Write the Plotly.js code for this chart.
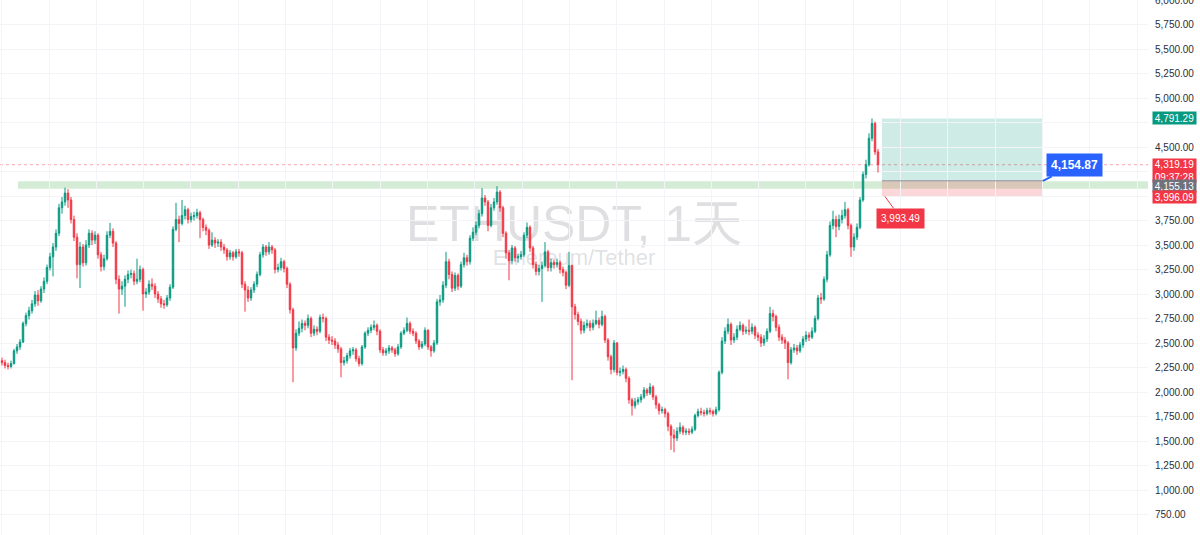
<!DOCTYPE html>
<html>
<head>
<meta charset="utf-8">
<script src="https://cdn.plot.ly/plotly-3.0.1.min.js"></script>
<style>
  html, body { margin: 0; padding: 0; background: #ffffff; }
  #chart { width: 1200px; height: 535px; }
</style>
</head>
<body>
<div id="chart"></div>
<script>
// ETHUSDT candles (2-day bars)
const open = [
  2320,2300,2270,2260,2290,2420,2460,2510,2700,2780,
  2830,2900,2990,2930,3050,3130,3270,3380,3480,3620,
  3880,3940,4030,3960,3760,3580,3300,3480,3320,3500,
  3620,3550,3600,3400,3280,3360,3600,3640,3520,3150,
  3050,3080,3150,3200,3210,3130,3150,3250,3000,3020,
  3100,3080,3000,2950,2900,2890,2960,3070,3660,3760,
  3720,3800,3860,3760,3790,3800,3830,3760,3680,3650,
  3500,3550,3520,3530,3480,3450,3380,3420,3380,3430,
  3420,3100,3040,2960,3040,3100,3200,3400,3480,3430,
  3480,3450,3250,3270,3330,3260,3100,2840,2450,2600,
  2650,2700,2680,2750,2600,2640,2620,2760,2750,2560,
  2530,2520,2480,2440,2300,2320,2370,2420,2430,2340,
  2290,2460,2600,2630,2660,2680,2620,2430,2400,2420,
  2450,2430,2390,2460,2600,2630,2700,2620,2600,2520,
  2460,2490,2630,2460,2420,2500,2920,2940,3090,3330,
  3200,3060,3190,3080,3300,3370,3330,3570,3630,3700,
  3820,3980,3940,3700,3880,3940,4040,3880,3620,3420,
  3340,3470,3370,3380,3400,3600,3680,3470,3300,3230,
  3260,3290,3430,3270,3320,3300,3320,3250,3220,3090,
  3290,2870,2790,2720,2630,2680,2700,2660,2700,2730,
  2690,2770,2530,2360,2230,2500,2200,2210,2230,2140,
  1920,1860,1900,1920,1950,2020,1990,2050,1950,1870,
  1810,1820,1780,1650,1560,1530,1600,1640,1590,1600,
  1590,1620,1760,1800,1790,1780,1810,1800,1780,1820,
  2200,2520,2620,2690,2530,2560,2640,2680,2620,2630,
  2620,2660,2580,2560,2500,2540,2620,2800,2770,2660,
  2560,2530,2500,2300,2430,2450,2420,2480,2540,2580,
  2560,2620,2750,2960,2950,3150,3400,3700,3760,3690,
  3760,3800,3860,3700,3480,3580,3680,3960,4220,4320,
  4590,4740,4450
];
const high = [
  2350,2330,2300,2320,2440,2490,2540,2720,2810,2870,
  2940,3030,3040,3080,3170,3300,3420,3520,3660,3920,
  3990,4085,4070,3990,3800,3620,3530,3510,3550,3660,
  3650,3640,3620,3430,3400,3640,3725,3670,3540,3190,
  3130,3190,3240,3250,3240,3360,3290,3270,3060,3140,
  3160,3110,3030,2980,2940,2990,3100,3690,3930,3800,
  3960,3900,3880,3830,3840,3870,3850,3780,3710,3670,
  3630,3580,3560,3560,3510,3470,3450,3440,3460,3460,
  3440,3130,3080,3070,3130,3230,3430,3510,3500,3530,
  3500,3470,3310,3370,3350,3280,3120,2860,2640,2720,
  2740,2730,2790,2770,2680,2670,2790,2800,2770,2590,
  2570,2550,2510,2460,2360,2400,2450,2460,2450,2370,
  2480,2620,2660,2690,2730,2700,2640,2460,2450,2480,
  2470,2450,2490,2620,2660,2760,2720,2650,2620,2540,
  2520,2660,2640,2480,2530,2950,2990,3130,3430,3360,
  3230,3220,3210,3330,3420,3400,3600,3680,3740,3860,
  4080,4010,3960,3920,3980,4100,4060,3900,3640,3450,
  3500,3490,3410,3440,3630,3730,3700,3490,3330,3300,
  3330,3530,3450,3360,3350,3360,3340,3280,3240,3430,
  3300,2900,2820,2750,2720,2740,2730,2740,2830,2760,
  2830,2790,2550,2380,2530,2510,2250,2270,2250,2160,
  1940,1940,1950,1980,2050,2040,2090,2070,1970,1890,
  1850,1840,1800,1670,1620,1640,1690,1660,1630,1630,
  1650,1780,1830,1840,1820,1840,1840,1820,1850,2220,
  2560,2660,2750,2710,2600,2680,2720,2700,2670,2740,
  2700,2680,2610,2590,2580,2650,2870,2840,2790,2690,
  2590,2560,2520,2460,2490,2480,2510,2570,2620,2610,
  2660,2780,2990,3010,3180,3440,3740,3850,3800,3810,
  3860,3940,3880,3720,3620,3720,3990,4250,4370,4640,
  4791.29,4760,4480
];
const low = [
  2270,2240,2230,2240,2280,2390,2430,2500,2670,2740,
  2800,2870,2880,2910,3010,3100,3240,3180,3440,3590,
  3820,3900,3880,3720,3540,3160,3060,3280,3290,3470,
  3500,3510,3360,3230,3240,3340,3570,3480,3100,2800,
  2990,2870,3110,3160,3090,3100,3120,2830,2960,2990,
  3040,2960,2910,2860,2850,2870,2930,3050,3640,3530,
  3700,3760,3720,3730,3750,3770,3570,3640,3600,3460,
  3480,3470,3480,3440,3410,3340,3350,3340,3360,3380,
  3060,2820,2920,2930,3010,3070,3180,3370,3390,3400,
  3410,3210,3220,3240,3220,3060,2800,2100,2420,2570,
  2610,2630,2650,2560,2570,2580,2600,2710,2520,2490,
  2480,2440,2400,2150,2270,2290,2340,2380,2310,2260,
  2270,2440,2570,2600,2630,2580,2400,2370,2370,2390,
  2400,2360,2370,2440,2580,2610,2590,2570,2490,2430,
  2440,2470,2430,2360,2400,2480,2880,2910,3060,3150,
  3020,3030,3040,3060,3270,3290,3300,3540,3600,3670,
  3790,3900,3640,3680,3850,3910,3840,3580,3360,3140,
  3310,3330,3320,3350,3380,3570,3430,3260,3190,3190,
  2920,3270,3230,3230,3260,3270,3210,3180,3050,3070,
  2120,2740,2680,2590,2600,2650,2620,2630,2680,2650,
  2670,2500,2320,2180,2200,2170,2160,2180,2100,1880,
  1760,1830,1870,1890,1930,1960,1970,1920,1830,1770,
  1780,1740,1600,1410,1385,1500,1570,1560,1560,1560,
  1570,1600,1740,1760,1750,1760,1770,1750,1760,1800,
  2180,2490,2590,2480,2500,2530,2620,2580,2590,2580,
  2590,2540,2520,2460,2470,2510,2600,2720,2620,2520,
  2490,2440,2130,2280,2400,2380,2400,2450,2510,2520,
  2540,2600,2730,2900,2930,3120,3380,3660,3580,3650,
  3720,3770,3660,3380,3440,3550,3660,3940,4180,4300,
  4560,4420,4240
];
const close = [
  2300,2270,2260,2290,2420,2460,2510,2700,2780,2830,
  2900,2990,2930,3050,3130,3270,3380,3480,3620,3880,
  3940,4030,3960,3760,3580,3300,3480,3320,3500,3620,
  3550,3600,3400,3280,3360,3600,3640,3520,3150,3050,
  3080,3150,3200,3210,3130,3150,3250,3000,3020,3100,
  3080,3000,2950,2900,2890,2960,3070,3660,3760,3720,
  3800,3860,3760,3790,3800,3830,3760,3680,3650,3500,
  3550,3520,3530,3480,3450,3380,3420,3380,3430,3420,
  3100,3040,2960,3040,3100,3200,3400,3480,3430,3480,
  3450,3250,3270,3330,3260,3100,2840,2450,2600,2650,
  2700,2680,2750,2600,2640,2620,2760,2750,2560,2530,
  2520,2480,2440,2300,2320,2370,2420,2430,2340,2290,
  2460,2600,2630,2660,2680,2620,2430,2400,2420,2450,
  2430,2390,2460,2600,2630,2700,2620,2600,2520,2460,
  2490,2630,2460,2420,2500,2920,2940,3090,3330,3200,
  3060,3190,3080,3300,3370,3330,3570,3630,3700,3820,
  3980,3940,3700,3880,3940,4040,3880,3620,3420,3340,
  3470,3370,3380,3400,3600,3680,3470,3300,3230,3260,
  3290,3430,3270,3320,3300,3320,3250,3220,3090,3290,
  2870,2790,2720,2630,2680,2700,2660,2700,2730,2690,
  2770,2530,2360,2230,2500,2200,2210,2230,2140,1920,
  1860,1900,1920,1950,2020,1990,2050,1950,1870,1810,
  1820,1780,1650,1560,1530,1600,1640,1590,1600,1590,
  1620,1760,1800,1790,1780,1810,1800,1780,1820,2200,
  2520,2620,2690,2530,2560,2640,2680,2620,2630,2620,
  2660,2580,2560,2500,2540,2620,2800,2770,2660,2560,
  2530,2500,2300,2430,2450,2420,2480,2540,2580,2560,
  2620,2750,2960,2950,3150,3400,3700,3760,3690,3760,
  3800,3860,3700,3480,3580,3680,3960,4220,4320,4590,
  4740,4450,4319.19
];

// Price axis ticks (labels at 4,000 / 4,250 / 4,750 are covered by price tags in the reference)
const priceTicks = [750,1000,1250,1500,1750,2000,2250,2500,2750,3000,3250,3500,3750,
                    4000,4250,4500,4750,5000,5250,5500,5750,6000];
const coveredTicks = [4000, 4250, 4750];

// Long-position tool and reference levels
const targetPrice = [4791.29];
const entryPrice = [4154.87];
const entryAxisPrice = [4155.13];
const stopPrice = [3996.09];
const stopLabelPrice = [3993.49];
const lastPrice = [4319.19];
const countdown = ['09:37:28'];
const zoneBand = [4075, 4150];
const symbolTitle = ['ETHUSDT, 1天'];
const symbolSub = ['Ethereum/Tether'];

const fmt = v => v.toLocaleString('en-US', {minimumFractionDigits: 2, maximumFractionDigits: 2});
const tickText = priceTicks.map(v => coveredTicks.includes(v) ? '' : fmt(v));

const idx = close.map((_, i) => i);
const lastIdx = idx[idx.length - 1];
const posStart = lastIdx + 1.3;
const posEnd = posStart + 53.7;

const UP = '#089981', DOWN = '#f23645';
const FONT = 'Liberation Sans, Arial, Noto Sans CJK SC, sans-serif';
const GRID = '#f3f4f7';

const trace = {
  type: 'candlestick',
  x: idx, open: open, high: high, low: low, close: close,
  increasing: {line: {color: UP, width: 1}, fillcolor: UP},
  decreasing: {line: {color: DOWN, width: 1}, fillcolor: DOWN},
  whiskerwidth: 0,
  hoverinfo: 'skip',
  showlegend: false
};

const W = 1148; // plot width in px
const axX = 1152 / W;

function axisLabel(price, text, bg, yshift, h) {
  return {
    xref: 'paper', yref: 'y', x: axX, y: price, xanchor: 'left', yanchor: 'middle',
    text: text, showarrow: false, bgcolor: bg, borderpad: 1,
    width: 41, height: h || 10, align: 'center', yshift: yshift || 0,
    font: {family: FONT, size: 10, color: '#ffffff'}
  };
}

const layout = {
  width: 1200, height: 535,
  margin: {l: 0, r: 52, t: 0, b: 0},
  paper_bgcolor: '#ffffff', plot_bgcolor: '#ffffff',
  showlegend: false,
  dragmode: false,
  xaxis: {
    range: [-0.67, 382], showgrid: true, gridcolor: GRID, gridwidth: 1,
    tick0: 15.67, dtick: 15.77, showticklabels: false, ticks: '',
    zeroline: false, showline: false, rangeslider: {visible: false}, fixedrange: true
  },
  yaxis: {
    side: 'right', range: [541, 6000], tickvals: priceTicks, ticktext: tickText,
    showgrid: true, gridcolor: GRID, zeroline: false, showline: false, ticks: '',
    ticklabelstandoff: 6, ticklabeloverflow: 'allow',
    tickfont: {family: FONT, size: 10, color: '#2a2e39'}, fixedrange: true
  },
  shapes: [
    // watermark
    {type: 'rect', xref: 'paper', yref: 'paper', x0: 0.2, x1: 0.8, y0: 0.55, y1: 0.63,
     line: {width: 0}, fillcolor: 'rgba(0,0,0,0)', layer: 'below',
     label: {text: symbolTitle[0], textposition: 'middle center',
             font: {family: FONT, size: 50, color: 'rgba(120,123,134,0.24)'}}},
    {type: 'rect', xref: 'paper', yref: 'paper', x0: 0.3, x1: 0.7, y0: 0.5, y1: 0.545,
     line: {width: 0}, fillcolor: 'rgba(0,0,0,0)', layer: 'below',
     label: {text: symbolSub[0], textposition: 'middle center',
             font: {family: FONT, size: 22, color: 'rgba(120,123,134,0.24)'}}},
    // horizontal zone band
    {type: 'rect', xref: 'paper', yref: 'y', x0: 18 / W, x1: 1, y0: zoneBand[0], y1: zoneBand[1],
     line: {width: 0}, fillcolor: 'rgba(76,175,80,0.24)', layer: 'below'},
    // current price dotted line
    {type: 'line', xref: 'paper', yref: 'y', x0: 0, x1: 1, y0: lastPrice[0], y1: lastPrice[0],
     line: {color: 'rgba(242,54,69,0.45)', width: 1, dash: 'dot'}, layer: 'below'},
    // long position: profit zone
    {type: 'rect', xref: 'x', yref: 'y', x0: posStart, x1: posEnd, y0: entryPrice[0], y1: targetPrice[0],
     line: {width: 0}, fillcolor: 'rgba(8,153,129,0.2)', layer: 'below'},
    // long position: stop zone
    {type: 'rect', xref: 'x', yref: 'y', x0: posStart, x1: posEnd, y0: stopPrice[0], y1: entryPrice[0],
     line: {width: 0}, fillcolor: 'rgba(242,54,69,0.2)', layer: 'below'},
    // entry line
    {type: 'line', xref: 'x', yref: 'y', x0: posStart, x1: posEnd, y0: entryPrice[0], y1: entryPrice[0],
     line: {color: '#8a8d96', width: 1}, layer: 'above'}
  ],
  annotations: [
    // entry label (blue)
    {xref: 'x', yref: 'y', x: posEnd, y: entryPrice[0], text: '<b>' + fmt(entryPrice[0]) + '</b>',
     showarrow: true, arrowhead: 0, arrowwidth: 2, arrowcolor: '#2962ff', ax: 31, ay: -16,
     bgcolor: '#2962ff', borderpad: 4, font: {family: FONT, size: 12, color: '#ffffff'}},
    // stop label (red)
    {xref: 'x', yref: 'y', x: posStart + 1, y: stopPrice[0], text: fmt(stopLabelPrice[0]),
     showarrow: true, arrowhead: 0, arrowwidth: 1, arrowcolor: DOWN, ax: 16, ay: 22,
     bgcolor: DOWN, borderpad: 4, font: {family: FONT, size: 10, color: '#ffffff'}},
    // axis labels
    axisLabel(targetPrice[0], fmt(targetPrice[0]), UP, 0),
    {xref: 'paper', yref: 'y', x: axX, y: lastPrice[0], xanchor: 'left', yanchor: 'top',
     text: fmt(lastPrice[0]) + '<br>' + countdown[0], showarrow: false, bgcolor: DOWN, borderpad: 1,
     width: 41, height: 21, align: 'center', yshift: 7,
     font: {family: FONT, size: 10, color: '#ffffff'}},
    axisLabel(entryAxisPrice[0], fmt(entryAxisPrice[0]), '#6f727c', -5),
    axisLabel(stopPrice[0], fmt(stopPrice[0]), DOWN, -1)
  ]
};

Plotly.newPlot('chart', [trace], layout, {staticPlot: true, displayModeBar: false});
</script>
</body>
</html>
